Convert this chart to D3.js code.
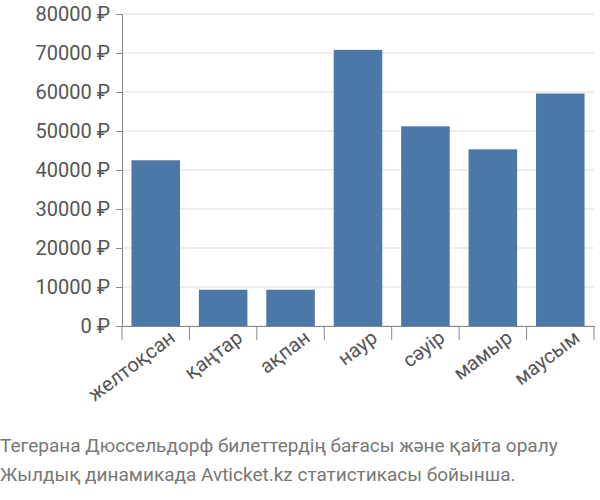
<!DOCTYPE html><html><head><meta charset="utf-8"><script src="https://cdn.jsdelivr.net/npm/d3@7"></script>
<style>body{margin:0;background:#fff}</style></head><body><svg id="c" width="600" height="500"></svg>
<script>
const categories=["желтоқсан","қаңтар","ақпан","наур","сәуір","мамыр","маусым"];
const values=[42500,9300,9300,70800,51200,45300,59600];
const yTicks=[0,10000,20000,30000,40000,50000,60000,70000,80000];
const caption=["Тегерана Дюссельдорф билеттердің бағасы және қайта оралу","Жылдық динамикада Avticket.kz статистикасы бойынша."];
const svg=d3.select("#c"),L=122,R=594,T=14,B=326;
const x=d3.scaleBand().domain(categories).range([L,R]).paddingInner(0.28).paddingOuter(0.14);
const y=d3.scaleLinear().domain([0,80000]).range([B,T]);
svg.append("g").selectAll("line").data(yTicks).join("line").attr("x1",L).attr("x2",R).attr("y1",d=>y(d)).attr("y2",d=>y(d)).attr("stroke","#ddd");
svg.append("g").selectAll("rect").data(values).join("rect").attr("x",(d,i)=>x(categories[i])).attr("width",x.bandwidth()).attr("y",d=>y(d)).attr("height",d=>B-y(d)).attr("fill","#4c78a8");
const ya=svg.append("g").attr("transform",`translate(${L},0)`).call(d3.axisLeft(y).tickValues(yTicks).tickFormat(d=>d+" ₽").tickSize(6).tickPadding(6));
ya.selectAll("text").attr("font-family","Roboto").attr("font-size",20).attr("fill","#555");
ya.selectAll("line,path").attr("stroke","#888");
const xa=svg.append("g").attr("transform",`translate(0,${B})`).call(d3.axisBottom(x).tickSize(0).tickPadding(12));
xa.select("path").attr("stroke","#888");
xa.selectAll("text").attr("font-family","Roboto").attr("font-size",20).attr("fill","#555").attr("text-anchor","end").attr("dy","0.6em").attr("transform","rotate(-37) translate(8,0)");
svg.append("g").selectAll("line").data(d3.range(categories.length+1)).join("line").attr("x1",i=>L+i*x.step()).attr("x2",i=>L+i*x.step()).attr("y1",B).attr("y2",B+14).attr("stroke","#888");
svg.append("g").selectAll("text").data(caption).join("text").attr("x",0).attr("y",(d,i)=>452+i*29).text(d=>d).attr("font-family","Roboto").attr("font-size",19).attr("fill","#777");
</script></body></html>
